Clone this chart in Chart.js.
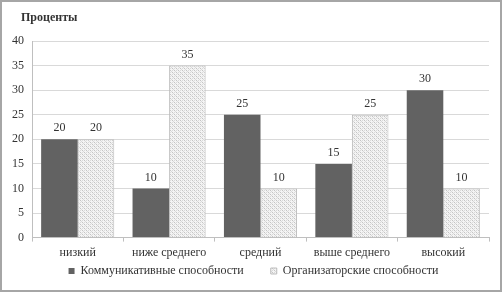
<!DOCTYPE html>
<html>
<head>
<meta charset="utf-8">
<script src="https://cdn.jsdelivr.net/npm/chart.js@4/dist/chart.umd.min.js"></script>
<style>
  body { margin: 0; background: #fff; }
  canvas { display: block; }
</style>
</head>
<body>
<canvas id="chart" width="502" height="294"></canvas>
<script>
// Data
const categories = ['низкий', 'ниже среднего', 'средний', 'выше среднего', 'высокий'];
const communicative = [20, 10, 25, 15, 30];
const organizational = [20, 35, 10, 25, 10];
const seriesNames = ['Коммуникативные способности', 'Организаторские способности'];
const yTicks = [0, 5, 10, 15, 20, 25, 30, 35, 40];

const serif = '"Liberation Serif", "Times New Roman", serif';
const LEGEND_PAD = 27;
const LEGEND_PULL = 26; // legend sits closer to the axis labels than its padding allows
const LEGEND_NUDGE = 7;

// light dotted fill for the second series
function makePattern() {
  const c = document.createElement('canvas');
  c.width = 4; c.height = 4;
  const p = c.getContext('2d');
  p.fillStyle = '#f4f4f4';
  p.fillRect(0, 0, 4, 4);
  p.fillStyle = '#c4c4c4';
  p.fillRect(0, 0, 1, 1);
  p.fillRect(2, 2, 1, 1);
  p.fillStyle = '#dadada';
  p.fillRect(1, 1, 1, 1);
  p.fillRect(3, 3, 1, 1);
  p.fillRect(2, 0, 1, 1);
  p.fillRect(0, 2, 1, 1);
  return p.createPattern(c, 'repeat');
}

const frame = {
  id: 'frame',
  beforeDraw(chart) {
    const ctx = chart.ctx;
    ctx.save();
    ctx.fillStyle = '#fff';
    ctx.fillRect(0, 0, chart.width, chart.height);
    ctx.strokeStyle = '#a6a6a6';
    ctx.lineWidth = 2;
    ctx.strokeRect(1, 1, chart.width - 2, chart.height - 4);
    ctx.font = 'bold 12px ' + serif;
    ctx.fillStyle = '#333';
    ctx.textBaseline = 'middle';
    ctx.fillText('Проценты', 21, 18);
    ctx.restore();
  }
};

const legendPull = {
  id: 'legendPull',
  beforeLayout(chart) {
    const lg = chart.legend;
    if (lg && !lg._pulled) {
      const fit = lg.fit;
      lg.fit = function () { fit.call(this); this.height -= LEGEND_PULL; };
      lg._pulled = true;
    }
  },
  afterLayout(chart) {
    // move only the top edge so the items stay inside the legend's clip box
    chart.legend.top -= LEGEND_PULL;
    chart.legend.left += LEGEND_NUDGE;
    chart.legend.right += LEGEND_NUDGE;
  }
};

const valueLabels = {
  id: 'valueLabels',
  afterDatasetsDraw(chart) {
    const ctx = chart.ctx;
    ctx.save();
    ctx.font = '12px ' + serif;
    ctx.fillStyle = '#333';
    ctx.textAlign = 'center';
    ctx.textBaseline = 'bottom';
    chart.data.datasets.forEach((ds, i) => {
      chart.getDatasetMeta(i).data.forEach((bar, j) => {
        ctx.fillText(ds.data[j], bar.x, bar.y - 5);
      });
    });
    ctx.restore();
  }
};

new Chart(document.getElementById('chart'), {
  type: 'bar',
  data: {
    labels: categories,
    datasets: [{
      label: seriesNames[0],
      data: communicative,
      backgroundColor: '#626262',
      borderWidth: 0
    }, {
      label: seriesNames[1],
      data: organizational,
      backgroundColor: makePattern(),
      borderColor: '#bdbdbd',
      borderWidth: 1
    }]
  },
  options: {
    responsive: false,
    animation: false,
    layout: { padding: { top: 41, left: 4, right: 13, bottom: 7 } },
    datasets: { bar: { categoryPercentage: 0.8, barPercentage: 1.0 } },
    scales: {
      x: {
        grid: { display: true, drawOnChartArea: false, offset: true, tickLength: 4, color: '#bfbfbf' },
        border: { color: '#bfbfbf' },
        ticks: { font: { family: serif, size: 12 }, color: '#333', padding: 4 }
      },
      y: {
        min: 0, max: 40,
        afterBuildTicks(axis) { axis.ticks = yTicks.map(v => ({ value: v })); },
        grid: { color: '#d9d9d9', drawTicks: false },
        border: { color: '#bfbfbf' },
        ticks: { font: { family: serif, size: 12 }, color: '#333', padding: 8 }
      }
    },
    plugins: {
      legend: {
        position: 'bottom',
        labels: {
          font: { family: serif, size: 12 },
          color: '#333',
          boxWidth: 6, boxHeight: 6,
          padding: LEGEND_PAD
        }
      },
      tooltip: { enabled: false }
    }
  },
  plugins: [frame, legendPull, valueLabels]
});
</script>
</body>
</html>
